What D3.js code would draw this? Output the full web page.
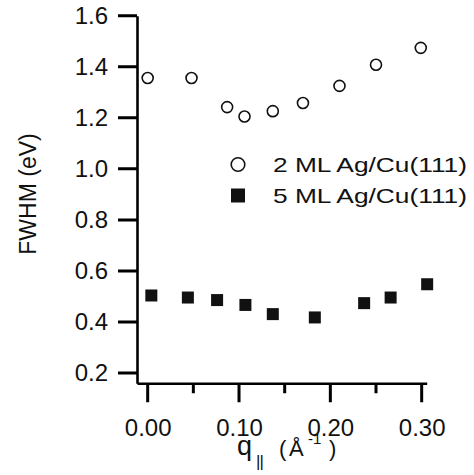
<!DOCTYPE html>
<html>
<head>
<meta charset="utf-8">
<script src="https://cdn.jsdelivr.net/npm/d3@7"></script>
<style>
  html, body { margin: 0; padding: 0; background: #fff; }
  svg { display: block; }
  text { font-family: "Liberation Sans", Arial, Helvetica, sans-serif; fill: #111; }
</style>
</head>
<body>
<svg id="chart" width="474" height="475"></svg>
<script>
// ---- data ----
const q2ML = [0.000, 0.048, 0.087, 0.106, 0.137, 0.170, 0.210, 0.250, 0.299];
const fwhm2ML = [1.356, 1.356, 1.242, 1.205, 1.226, 1.258, 1.325, 1.408, 1.474];
const q5ML = [0.004, 0.044, 0.076, 0.107, 0.137, 0.183, 0.237, 0.266, 0.306];
const fwhm5ML = [0.504, 0.496, 0.486, 0.467, 0.431, 0.418, 0.474, 0.496, 0.548];
const xMajorTicks = [0.00, 0.10, 0.20, 0.30];
const xMinorTicks = [0.05, 0.15, 0.25];
const yTicks = [0.2, 0.4, 0.6, 0.8, 1.0, 1.2, 1.4, 1.6];
const legendLabels = ["2 ML Ag/Cu(111)", "5 ML Ag/Cu(111)"];
const yTitle = "FWHM (eV)";

const svg = d3.select("#chart");
const x = d3.scaleLinear().domain([-0.0117, 0.3055]).range([137, 426.7]);
const y = d3.scaleLinear().domain([0.16, 1.6]).range([383.3, 15.7]);
const x0 = x.range()[0], y0 = y.range()[0];
const ink = "#000";
const aw = 2.6; // axis thickness

// tick marks: one path built from the scales
const tickPath = d3.path();
yTicks.forEach(v => { tickPath.moveTo(x0 - 19, y(v)); tickPath.lineTo(x0, y(v)); });
xMajorTicks.forEach(v => { tickPath.moveTo(x(v), y0); tickPath.lineTo(x(v), y0 + 19); });
xMinorTicks.forEach(v => { tickPath.moveTo(x(v), y0); tickPath.lineTo(x(v), y0 + 10); });
svg.append("path").attr("d", tickPath.toString())
  .style("fill", "none").style("stroke", ink).style("stroke-width", "3px");

// x axis (domain line + labels)
svg.append("g")
  .attr("transform", `translate(0,${y0})`)
  .call(d3.axisBottom(x).tickValues(xMajorTicks).tickSize(0).tickSizeOuter(0).tickPadding(36)
        .tickFormat(d3.format(".2f")))
  .call(g => g.select(".domain").style("stroke", ink).style("stroke-width", aw + "px"))
  .call(g => g.selectAll("text").attr("font-size", 24).style("fill", "#111")
        .attr("font-family", "Liberation Sans, Arial, sans-serif"));

// y axis
svg.append("g")
  .attr("transform", `translate(${x0},0)`)
  .call(d3.axisLeft(y).tickValues(yTicks).tickSize(0).tickSizeOuter(0).tickPadding(29)
        .tickFormat(d3.format(".1f")))
  .call(g => g.select(".domain").style("stroke", ink).style("stroke-width", aw + "px"))
  .call(g => g.selectAll("text").attr("font-size", 24).style("fill", "#111")
        .attr("font-family", "Liberation Sans, Arial, sans-serif"));

// y title
svg.append("text")
  .attr("transform", "translate(36,194) rotate(-90)")
  .attr("text-anchor", "middle")
  .attr("font-size", 23)
  .text(yTitle);

// x title: q|| ( Å^-1 )
const xt = svg.append("g");
xt.append("text").attr("x", 237).attr("y", 455).attr("font-size", 27).text("q");
xt.append("text").attr("x", 256).attr("y", 467).attr("font-size", 17).attr("letter-spacing", -1).text("||");
xt.append("text").attr("x", 279).attr("y", 456).attr("font-size", 22).text("(");
xt.append("text").attr("x", 289).attr("y", 456).attr("font-size", 22).text("Å");
xt.append("text").attr("x", 308).attr("y", 444).attr("font-size", 15).text("-1");
xt.append("text").attr("x", 329).attr("y", 456).attr("font-size", 22).text(")");

// data: 2 ML circles
svg.append("g").selectAll("circle")
  .data(q2ML.map((q, i) => [q, fwhm2ML[i]]))
  .join("circle")
  .attr("cx", d => x(d[0])).attr("cy", d => y(d[1])).attr("r", 5.5)
  .style("fill", "#fff").style("stroke", "#111").style("stroke-width", "1.6px");

// data: 5 ML squares
const sq = 12;
svg.append("g").selectAll("rect")
  .data(q5ML.map((q, i) => [q, fwhm5ML[i]]))
  .join("rect")
  .attr("x", d => x(d[0]) - sq / 2).attr("y", d => y(d[1]) - sq / 2)
  .attr("width", sq).attr("height", sq)
  .style("fill", "#111");

// legend
const leg = svg.append("g");
leg.append("circle").attr("cx", 238).attr("cy", 164.5).attr("r", 6.8)
  .style("fill", "#fff").style("stroke", "#111").style("stroke-width", "1.6px");
leg.append("rect").attr("x", 231).attr("y", 188.5).attr("width", 14).attr("height", 14).style("fill", "#111");
legendLabels.forEach((t, i) => {
  leg.append("text").attr("x", 273).attr("y", 172 + i * 31)
    .attr("font-size", 21).attr("textLength", 194).attr("lengthAdjust", "spacingAndGlyphs")
    .text(t);
});
</script>
</body>
</html>
